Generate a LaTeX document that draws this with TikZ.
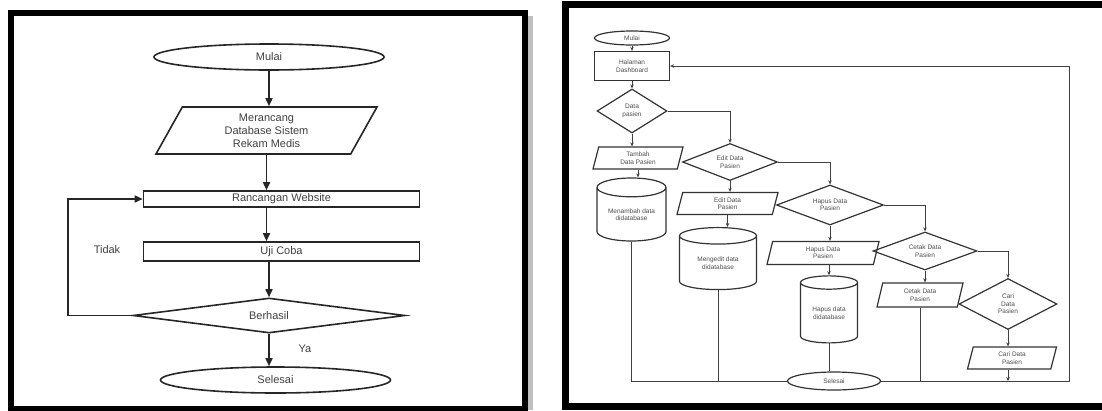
\documentclass[tikz,border=0pt]{standalone}
\usepackage{fontspec}
\setmainfont{Liberation Sans}
\usetikzlibrary{shapes.geometric,arrows.meta}

\begin{document}
\begin{tikzpicture}[x=1pt,y=-1pt,
bignode/.style={draw=black!85, line width=1.6pt, font=\fontsize{11}{13}\selectfont, text=black!75, align=center, inner sep=0pt},
bigterm/.style={bignode, ellipse, minimum width=230pt, minimum height=26pt},
bigio/.style={bignode, trapezium, trapezium left angle=52, trapezium right angle=128, trapezium stretches body, minimum width=221pt, minimum height=47pt},
bigproc/.style={bignode, rectangle, minimum width=276pt},
bigdec/.style={bignode, diamond, aspect=7, minimum width=272pt, minimum height=35pt},
bigarrow/.style={line width=1.6pt, draw=black!85, -{Triangle[length=8pt,width=7pt]}},
smallnode/.style={draw=black!80, line width=1.2pt, font=\fontsize{6.5}{7.5}\selectfont, text=black!70, align=center, inner sep=0pt},
smallterm/.style={smallnode, ellipse},
smallproc/.style={smallnode, rectangle},
smallio/.style={smallnode, trapezium, trapezium left angle=65, trapezium right angle=115, trapezium stretches body, minimum height=22pt},
smalldec/.style={smallnode, diamond},
smalldb/.style={smallnode, cylinder, shape border rotate=90, aspect=0.4},
smallline/.style={line width=0.7pt, draw=black!75},
smallarrow/.style={smallline, -{Stealth[length=4pt,width=3.5pt]}},
]
\path[use as bounding box, clip] (0,0) rectangle (1102,410);

% left panel
\draw[line width=6pt] (11,12.5) rectangle (525,409);
\fill[black!25] (528,16) rectangle (533,410);

\node[bigterm] (Mulai) at (269,57) {Mulai};
\node[bigio] (Rancang) at (266.5,130.5) {Merancang\\Database Sistem\\Rekam Medis};
\node[bigproc, minimum height=16pt] (Website) at (281.5,199) {Rancangan Website};
\node[bigproc, minimum height=19pt] (UjiCoba) at (281.5,251.5) {Uji Coba};
\node[bigdec] (Berhasil) at (269,315.5) {Berhasil};
\node[bigterm] (Selesai) at (275.5,380) {Selesai};
\node[font=\fontsize{11}{13}\selectfont, text=black!75] (Tidak) at (107,250) {Tidak};
\node[font=\fontsize{11}{13}\selectfont, text=black!75] (Ya) at (305,349) {Ya};
\coordinate (Balik) at (68,315.5);

\draw[bigarrow] (Mulai.south) -- (Mulai.south |- Rancang.north);
\draw[bigarrow] (Rancang.south) -- (Rancang.south |- Website.north);
\draw[bigarrow] (Website.south -| Rancang.south) -- (Rancang.south |- UjiCoba.north);
\draw[bigarrow] (UjiCoba.south -| Berhasil.north) -- (Berhasil.north);
\draw[bigarrow] (Berhasil.south) -- (Berhasil.south |- Selesai.north);
\draw[bigarrow] (Berhasil.west) -- (Balik) |- (Website.west);

% right panel
\draw[line width=6.5pt] (1110,4.5) -- (565.5,4.5) -- (565.5,406.5) -- (1110,406.5);

\node[smallterm, minimum width=75pt, minimum height=14pt] (Mulai2) at (632,38) {Mulai};
\node[smallproc, minimum width=75pt, minimum height=29pt] (Dashboard) at (632,66) {Halaman\\Dashboard};
\node[smalldec, aspect=1.5, minimum width=70pt, minimum height=44pt] (DataPasien) at (632,111) {Data\\pasien};
\node[smallio, minimum width=90pt] (Tambah) at (638,158) {Tambah\\Data Pasien};
\node[smalldb, minimum width=69pt, minimum height=63pt] (DbTambah) at (631.5,214.5) {Menambah data\\didatabase};
\node[smalldec, aspect=2.5, minimum width=95pt, minimum height=37pt] (EditDec) at (730,162) {Edit Data\\Pasien};
\node[smallio, minimum width=101pt] (EditIO) at (727.5,203.5) {Edit Data\\Pasien};
\node[smalldb, minimum width=77pt, minimum height=62pt] (DbEdit) at (718,263) {Mengedit data\\didatabase};
\node[smalldec, aspect=2.6, minimum width=107pt, minimum height=40pt] (HapusDec) at (830,205) {Hapus Data\\Pasien};
\node[smallio, minimum width=112pt, minimum height=23pt] (HapusIO) at (823,253) {Hapus Data\\Pasien};
\node[smalldb, minimum width=57pt, minimum height=67pt] (DbHapus) at (829,313) {Hapus data\\didatabase};
\node[smallterm, minimum width=93pt, minimum height=18pt] (Selesai2) at (834,381) {Selesai};
\node[smalldec, aspect=2.7, minimum width=104pt, minimum height=38pt] (CetakDec) at (925,251) {Cetak Data\\Pasien};
\node[smallio, minimum width=86pt, minimum height=24pt] (CetakIO) at (920,295) {Cetak Data\\Pasien};
\node[smalldec, aspect=1.9, minimum width=98pt, minimum height=51pt] (CariDec) at (1008,304) {Cari\\Data\\Pasien};
\node[smallio, minimum width=89pt] (CariIO) at (1012,358) {Cari Data\\Pasien};
\coordinate (Kembali) at (1069,381);

\draw[smallarrow] (Mulai2) -- (Dashboard);
\draw[smallarrow] (Dashboard) -- (DataPasien);
\draw[smallarrow] (DataPasien) -- (DataPasien.south |- Tambah.north);
\draw[smallarrow] (Tambah.south) -- (Tambah.south |- DbTambah.north);
\draw[smallarrow] (DataPasien.east) -| (EditDec.north);
\draw[smallarrow] (EditDec) -- (EditDec.south |- EditIO.north);
\draw[smallarrow] (EditIO.south) -- (EditIO.south |- DbEdit.north);
\draw[smallarrow] (EditDec.east) -| (HapusDec.north);
\draw[smallarrow] (HapusDec) -- (HapusDec.south |- HapusIO.north);
\draw[smallarrow] (HapusIO.south -| DbHapus.north) -- (DbHapus.north);
\draw[smallline] (DbHapus.south) -- (DbHapus.south |- Selesai2.north);
\draw[smallarrow] (HapusDec.east) -| (CetakDec.north);
\draw[smallarrow] (CetakDec) -- (CetakDec.south |- CetakIO.north);
\draw[smallarrow] (CetakDec.east) -| (CariDec.north);
\draw[smallarrow] (CariDec) -- (CariDec.south |- CariIO.north);
\draw[smallline] (DbTambah.south) |- (Selesai2.west);
\draw[smallline] (DbEdit.south) -- (DbEdit.south |- Selesai2.west);
\draw[smallline] (CetakIO.south) -- (CetakIO.south |- Selesai2.east);
\draw[smallarrow] (CariIO.south -| CariDec.south) -- (CariDec.south |- Selesai2.east);
\draw[smallarrow] (Selesai2.east) -- (Kembali) |- (Dashboard.east);

\end{tikzpicture}
\end{document}
